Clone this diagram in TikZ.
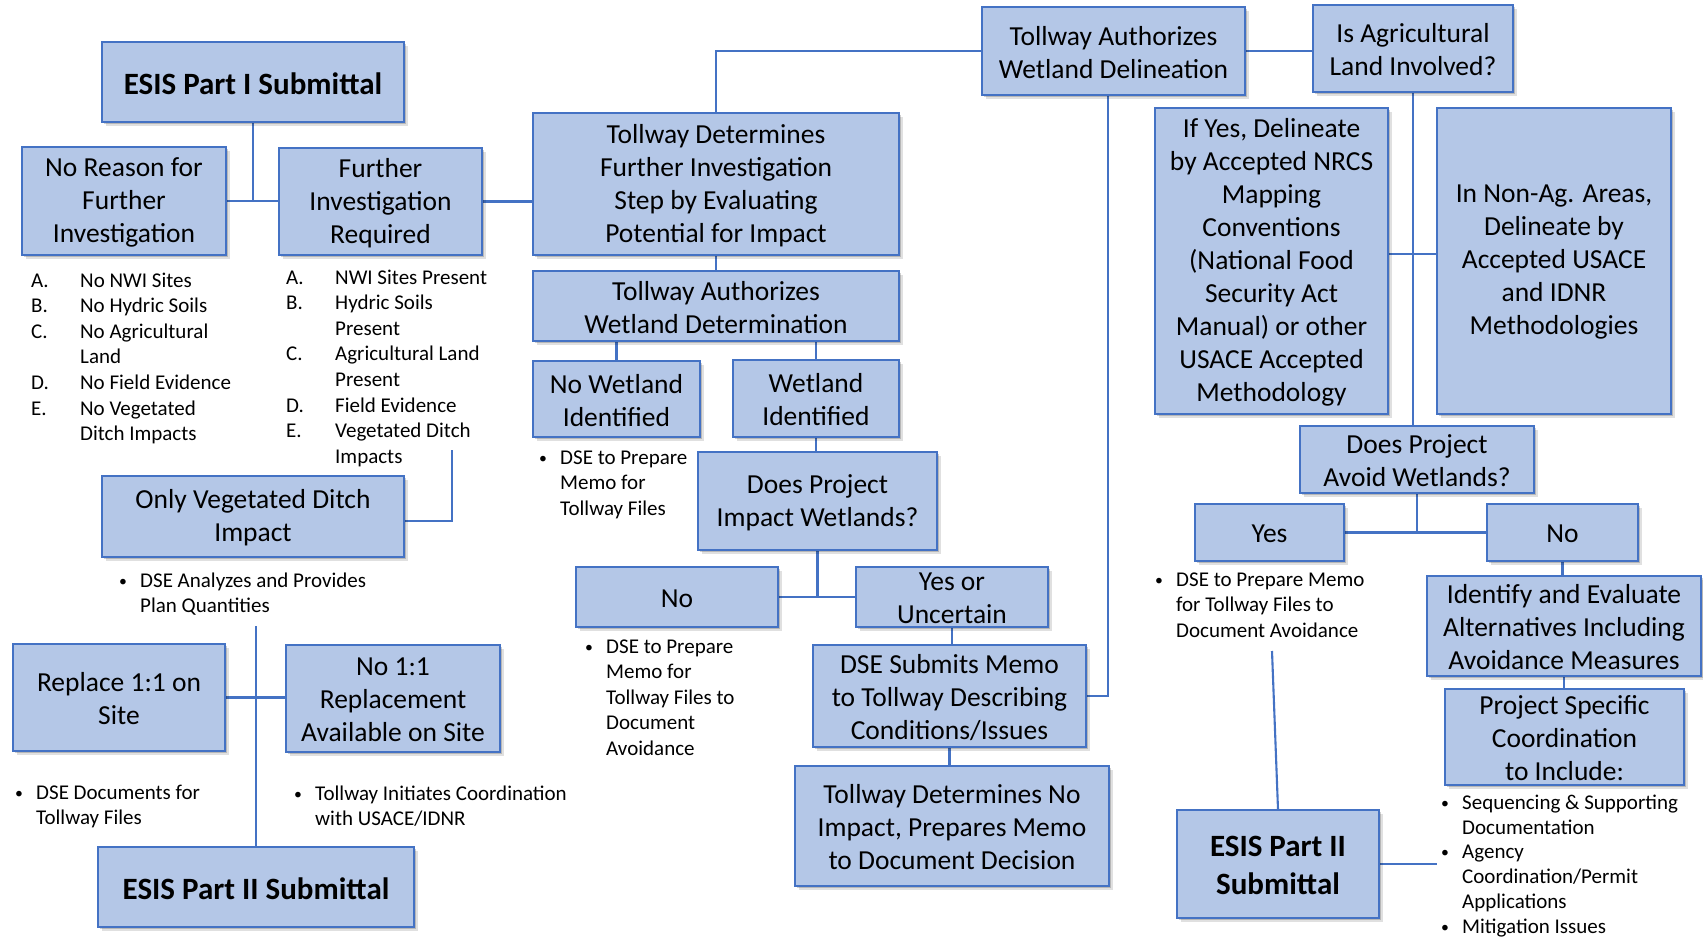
\documentclass[tikz,border=0pt]{standalone}
\usepackage{fontspec}
\setmainfont{Carlito}
\usetikzlibrary{fit,shadows}
\definecolor{boxfill}{HTML}{B4C7E7}
\definecolor{boxline}{HTML}{4472C4}
\definecolor{wirecol}{HTML}{4472C4}
\pgfdeclarelayer{paper}
\pgfdeclarelayer{wires}
\pgfsetlayers{paper,wires,main}

\tikzset{
  flow/.style={draw=boxline, fill=boxfill, line width=1.3pt, inner sep=0pt,
    drop shadow={shadow xshift=4pt, shadow yshift=-4pt, opacity=0.12, fill=black},
    drop shadow={shadow xshift=2pt, shadow yshift=-2pt, opacity=0.18, fill=black}},
  boxtext/.style={align=center, inner sep=0pt, yshift=-1.5pt, font=\fontsize{27.5}{33}\selectfont},
  boldtext/.style={align=center, inner sep=0pt, yshift=-1.5pt, font=\fontsize{31}{38}\selectfont\bfseries},
  notes/.style={align=left, anchor=north west, inner sep=0pt, font=\fontsize{21}{25.6}\selectfont},
  tightnotes/.style={notes, font=\fontsize{21}{24.7}\selectfont},
  wire/.style={draw=wirecol, line width=2.1pt},
}

% box given by its corners, with its text centred inside
\newcommand\flowbox[7][boxtext]{%
  \node[flow, fit={(#3,#4) (#5,#6)}] (#2) {};
  \node[#1] (#2-text) at (#2.center) {#7};
}
\newcommand\lbl[1]{\makebox[49pt][l]{#1}}
\newcommand\lblind{\hspace*{49pt}}
\newcommand\bul{\makebox[21pt][l]{\raisebox{1pt}{\scalebox{0.75}{\textbullet}}}}
\newcommand\bulind{\hspace*{21pt}}

\begin{document}
\begin{tikzpicture}[x=1pt,y=-1pt]
\begin{pgfonlayer}{paper}
\fill[white] (0,0) rectangle (1703,937);
\end{pgfonlayer}
\useasboundingbox (0,0) rectangle (1703,937);

% ---- boxes
\flowbox[boldtext]{partone}{102}{42}{404}{122}{ESIS Part I Submittal}
\flowbox{noreason}{22}{147}{226}{255}{No Reason for\\Further\\Investigation}
\flowbox{further}{279}{148}{482}{255}{Further\\Investigation\\Required}
\flowbox{evaluate}{533}{113}{899}{255}{Tollway Determines\\Further Investigation\\Step by Evaluating\\Potential for Impact}
\flowbox{delineation}{982}{7}{1245}{95}{Tollway Authorizes\\Wetland Delineation}
\flowbox{agland}{1313}{5}{1513}{92}{Is Agricultural\\Land Involved?}
\flowbox{nrcs}{1155}{108}{1388}{414}{If Yes, Delineate\\by Accepted NRCS\\Mapping\\Conventions\\(National Food\\Security Act\\Manual) or other\\USACE Accepted\\Methodology}
\flowbox{nonag}{1437}{108}{1671}{414}{In Non-Ag. Areas,\\Delineate by\\Accepted USACE\\and IDNR\\Methodologies}
\flowbox{determination}{533}{271}{899}{341}{Tollway Authorizes\\Wetland Determination}
\flowbox{nowetland}{533}{361}{700}{437}{No Wetland\\Identified}
\flowbox{wetland}{733}{360}{899}{437}{Wetland\\Identified}
\flowbox{impactq}{698}{452}{937}{550}{Does Project\\Impact Wetlands?}
\flowbox{ditch}{102}{476}{404}{557}{Only Vegetated Ditch\\Impact}
\flowbox{impactno}{576}{567}{778}{627}{No}
\flowbox{impactyes}{856}{567}{1048}{627}{Yes or\\Uncertain}
\flowbox{memo}{813}{645}{1086}{747}{DSE Submits Memo\\to Tollway Describing\\Conditions/Issues}
\flowbox{noimpact}{795}{766}{1109}{886}{Tollway Determines No\\Impact, Prepares Memo\\to Document Decision}
\flowbox{replace}{13}{644}{225}{751}{Replace 1:1 on\\Site}
\flowbox{noreplace}{286}{645}{500}{752}{No 1:1\\Replacement\\Available on Site}
\flowbox[boldtext]{parttwoleft}{98}{847}{414}{927}{ESIS Part II Submittal}
\flowbox{avoidq}{1300}{426}{1534}{493}{Does Project\\Avoid Wetlands?}
\flowbox{avoidyes}{1195}{504}{1344}{561}{Yes}
\flowbox{avoidno}{1487}{504}{1638}{561}{No}
\flowbox{alternatives}{1427}{576}{1701}{676}{Identify and Evaluate\\Alternatives Including\\Avoidance Measures}
\flowbox{coordination}{1445}{689}{1684}{785}{Project Specific\\Coordination\\to Include:}
\flowbox[boldtext]{parttworight}{1177}{810}{1379}{918}{ESIS Part II\\Submittal}

% ---- notes
\node[notes] (nocriteria) at (31,269) {\strut\lbl{A.}No NWI Sites\\\lbl{B.}No Hydric Soils\\\lbl{C.}No Agricultural\\\lblind Land\\\lbl{D.}No Field Evidence\\\lbl{E.}No Vegetated\\\lblind Ditch Impacts};
\node[notes] (criteria) at (286,266) {\strut\lbl{A.}NWI Sites Present\\\lbl{B.}Hydric Soils\\\lblind Present\\\lbl{C.}Agricultural Land\\\lblind Present\\\lbl{D.}Field Evidence\\\lbl{E.}Vegetated Ditch\\\lblind Impacts};
\node[notes] (nowetlandnote) at (539,446) {\strut\bul DSE to Prepare\\\bulind Memo for\\\bulind Tollway Files};
\node[notes] (ditchnote) at (119,569) {\strut\bul DSE Analyzes and Provides\\\bulind Plan Quantities};
\node[notes] (impactnonote) at (585,635) {\strut\bul DSE to Prepare\\\bulind Memo for\\\bulind Tollway Files to\\\bulind Document\\\bulind Avoidance};
\node[notes] (replacenote) at (15,781) {\strut\bul DSE Documents for\\\bulind Tollway Files};
\node[notes] (noreplacenote) at (294,782) {\strut\bul Tollway Initiates Coordination\\\bulind with USACE/IDNR};
\node[notes] (avoidyesnote) at (1155,568) {\strut\bul DSE to Prepare Memo\\\bulind for Tollway Files to\\\bulind Document Avoidance};
\node[tightnotes] (coordnote) at (1441,792) {\strut\bul Sequencing \& Supporting\\\bulind Documentation\\\bul Agency\\\bulind Coordination/Permit\\\bulind Applications\\\bul Mitigation Issues};

% ---- connectors
\begin{pgfonlayer}{wires}
\draw[wire] (partone.south) -- (partone.south |- noreason.east);
\draw[wire] (noreason.east) -- (noreason.east -| further.west);
\draw[wire] (further.east) -- (further.east -| evaluate.west);
\draw[wire] (evaluate.north) |- (delineation.west);
\draw[wire] (delineation.east) -- (delineation.east -| agland.west);
\draw[wire] (agland.south) -- (agland.south |- avoidq.north);
\draw[wire] ([yshift=7pt]nrcs.east) -- ([yshift=7pt]nonag.west);
\draw[wire] ([xshift=-5.5pt]delineation.south) |- (memo.east);
\draw[wire] (evaluate.south) -- (determination.north);
\draw[wire] (nowetland.north) -- (nowetland.north |- determination.south);
\draw[wire] (wetland.north) -- (wetland.north |- determination.south);
\draw[wire] (wetland.south) -- (wetland.south |- impactq.north);
\draw[wire] (impactq.south) -- (impactq.south |- impactno.east);
\draw[wire] (impactno.east) -- (impactyes.west);
\draw[wire] (impactyes.south) -- (impactyes.south |- memo.north);
\draw[wire] (memo.south) -- (memo.south |- noimpact.north);
\coordinate (ditchtop) at (452,450);
\draw[wire] (ditchtop) |- ([yshift=-4.5pt]ditch.east);
\coordinate (optionstop) at (256,626);
\draw[wire] (optionstop) -- (parttwoleft.north);
\draw[wire] (replace.east) -- (replace.east -| noreplace.west);
\draw[wire] (avoidq.south) -- (avoidq.south |- avoidyes.east);
\draw[wire] (avoidyes.east) -- (avoidno.west);
\draw[wire] (avoidno.south) -- (avoidno.south |- alternatives.north);
\draw[wire] (alternatives.south) -- (alternatives.south |- coordination.north);
\coordinate (avoidtop) at (1272,651);
\draw[wire] (avoidtop) -- (parttworight.north);
\coordinate (issuesend) at (1437,863);
\draw[wire] (parttworight.east) -- (parttworight.east -| issuesend);
\end{pgfonlayer}
\end{tikzpicture}
\end{document}
